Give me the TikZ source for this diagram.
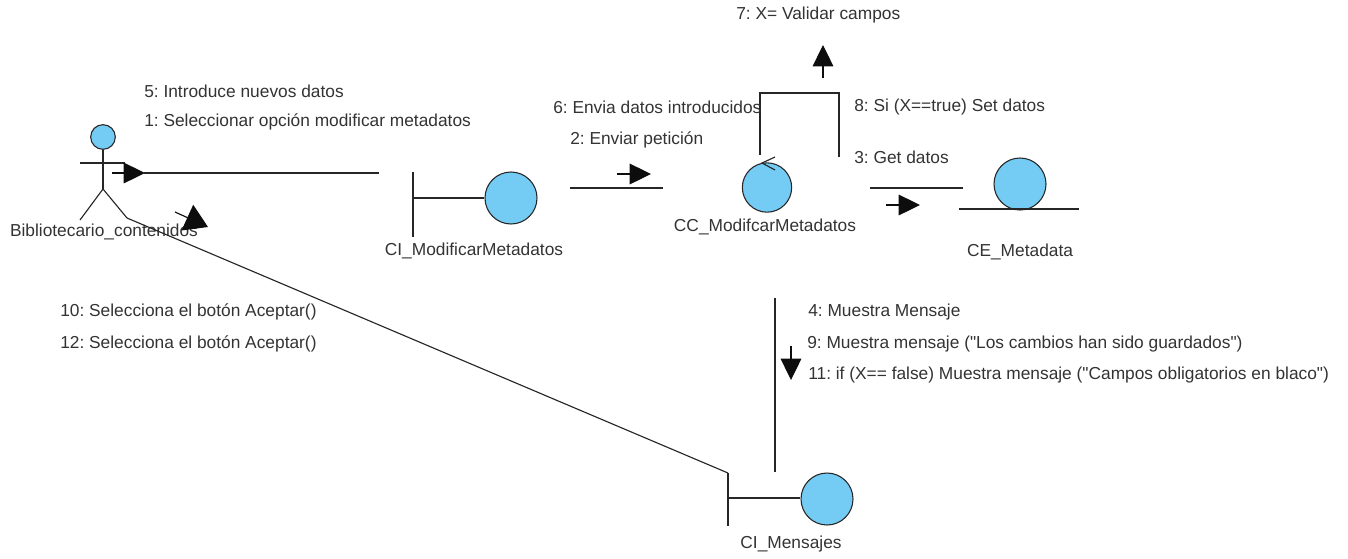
\documentclass[tikz,border=0pt]{standalone}
\usepackage{fontspec}
\setmainfont{Liberation Sans}[Ligatures=TeXOff]
\usepackage{tikz}
\usetikzlibrary{arrows.meta,positioning}
\definecolor{ballblue}{HTML}{74CBF3}
\frenchspacing

\begin{document}
\begin{tikzpicture}[
x=0.75pt,y=-0.75pt,
font=\fontsize{13}{15}\selectfont,
msg/.style={anchor=west,inner sep=0pt,text=black!80},
objname/.style={anchor=center,inner sep=0pt,text=black!80},
ball/.style={circle,draw=black!85,fill=ballblue,line width=0.8pt,inner sep=0pt,minimum size=39pt},
link/.style={line width=0.85pt,draw=black!85},
dirarrow/.style={-{Triangle[length=16pt,width=15.5pt]},line width=0.85pt,black!95},
bigarrow/.style={-{Triangle[length=17pt,width=21pt]},line width=0.85pt,black!95}]
    \useasboundingbox (0,0) rectangle (1348,558);

    % Actor
    \node[ball,minimum size=18.5pt] (head) at (103,137) {};
    \draw[link]
    	(103,189) coordinate (crotch)
    	(80,220) coordinate (footL)
    	(127,218) coordinate (footR)
    	(80,163) coordinate (handL)
    	(125,163) coordinate (handR);
    \draw[link] (head) -- (crotch);
    \draw[link] (handL) -- (handR);
    \draw[link] (footL) -- (crotch) -- (footR);
    \node[objname] (actor) at (104,232) {Bibliotecario\_contenidos};

    % Boundary and entity objects
    \node[ball] (modif) at (511,198) {};
    \draw (413,172) coordinate (modifTop) (413,237) coordinate (modifBot) (413,198) coordinate (modifMid);
    \draw[link] (modifTop) -- (modifBot);
    \draw[link] (modifMid) -- (modif);
    \node[objname] (modifName) at (474,251) {CI\_ModificarMetadatos};

    \node[ball,minimum size=37pt] (control) at (767,187.5) {};
    \node[objname] (controlName) at (765,227) {CC\_ModifcarMetadatos};

    \node[ball] (entity) at (1020,184) {};
    \draw (959,209) coordinate (entL) (1079,209) coordinate (entR);
    \draw[link] (entL) -- (entR);
    \node[objname] (entityName) at (1020,252) {CE\_Metadata};

    \node[ball] (msgs) at (827,499) {};
    \draw (728,473) coordinate (msgsTop) (728,526) coordinate (msgsBot) (728,498) coordinate (msgsMid);
    \draw[link] (msgsTop) -- (msgsBot);
    \draw[link] (msgsMid) -- (msgs.west |- msgsMid);
    \node[objname] (msgsName) at (791,544) {CI\_Mensajes};

    % Connectors
    \draw (379,173) coordinate (a1) (570,188) coordinate (b1) (663,188) coordinate (b2)
    	(870,188) coordinate (c1) (963,188) coordinate (c2)
    	(775,298) coordinate (d1) (775,472) coordinate (d2);
    \draw[link] (144,173) -- (a1);
    \draw[link] (footR) -- (msgsTop);
    \draw[link] (b1) -- (b2);
    \draw[link] (c1) -- (c2);
    \draw[link] (d1) -- (d2);

    % Self link
    \draw (760,155) coordinate (s1) (760,93) coordinate (s2) (839,93) coordinate (s3) (839,157) coordinate (s4);
    \draw[link] (s1) -- (s2) -- (s3) -- (s4);
    \draw[link] (775,157) -- (762,163) -- (775,170);

    % Direction arrows
    \draw (112,173) coordinate (p1) (145,173) coordinate (p2)
    	(175,212) coordinate (q1) (208,227) coordinate (q2)
    	(617,174) coordinate (r1) (651,174) coordinate (r2)
    	(886,205) coordinate (t1) (920,205) coordinate (t2)
    	(823,78) coordinate (u1) (823,45) coordinate (u2)
    	(791,346) coordinate (v1) (791,380) coordinate (v2);
    \foreach \from/\to in {p1/p2,r1/r2,t1/t2,u1/u2,v1/v2}
    	\draw[dirarrow] (\from) -- (\to);
    \draw[bigarrow] (q1) -- (q2);

    % Messages
    \node[msg] (m5) at (144,91) {5: Introduce nuevos datos};
    \node[msg] (m1) at (144,122) {1: Seleccionar opción modificar metadatos};
    \node[msg] (m6) at (553,107) {6: Envia datos introducidos};
    \node[msg] (m2) at (570,140) {2: Enviar petición};
    \node[msg] (m7) at (736,15) {7: X= Validar campos};
    \node[msg] (m8) at (854,107) {8: Si (X==true) Set datos};
    \node[msg] (m3) at (854,157) {3: Get datos};
    \node[msg] (m10) at (60,312) {10: Selecciona el botón Aceptar()};
    \node[msg] (m12) at (60,344) {12: Selecciona el botón Aceptar()};
    \node[msg] (m4) at (808,312) {4: Muestra Mensaje};
    \node[msg] (m9) at (807,344) {9: Muestra mensaje ("Los cambios han sido guardados")};
    \node[msg] (m11) at (808,375) {11: if (X== false) Muestra mensaje ("Campos obligatorios en blaco")};

\end{tikzpicture}
\end{document}
